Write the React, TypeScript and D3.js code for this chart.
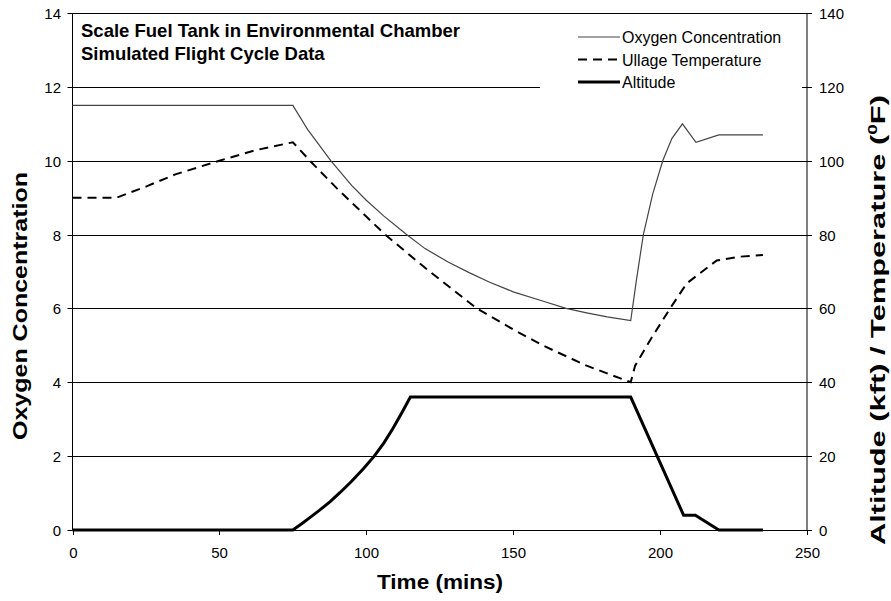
import React, { useRef, useEffect } from "react";
import { select, scaleLinear, line } from "d3";

// x axis (minutes) and the two y axes
const timeTicks = [0, 50, 100, 150, 200, 250];
const oxygenTicks = [0, 2, 4, 6, 8, 10, 12, 14];
const tempTicks = [0, 20, 40, 60, 80, 100, 120, 140];

// Oxygen concentration (left axis)
const oxygenTime = [0, 75, 80, 87.9, 95, 100, 106, 113.7, 120, 128, 135, 142, 150, 160, 168, 175, 182, 190, 192, 194.3, 197.5, 200.9, 204, 207.6, 212.2, 220, 235];
const oxygenValue = [11.5, 11.5, 10.85, 10.0, 9.33, 8.93, 8.5, 8.0, 7.62, 7.25, 6.97, 6.71, 6.45, 6.2, 6.0, 5.88, 5.77, 5.67, 6.8, 8.0, 9.1, 10.0, 10.6, 11.0, 10.5, 10.7, 10.7];

// Ullage temperature (right axis, deg F)
const ullageTime = [0, 15, 25, 35, 50, 62, 75, 80.8, 90, 106.4, 120, 137.6, 150, 160, 175, 190, 191.5, 196.6, 203.4, 209.1, 219.3, 227, 235];
const ullageValue = [90, 90, 93, 96.3, 100, 102.8, 105, 100, 92.5, 80, 71, 60, 54.3, 50, 44.5, 40, 44.5, 51.4, 60, 66.8, 73, 74, 74.5];

// Altitude (right axis, kft)
const altitudeTime = [0, 75, 78, 81, 84, 87.7, 91, 95, 99, 102.7, 106, 109, 112, 115, 190, 208, 212, 220, 235];
const altitudeValue = [0, 0, 1.7, 3.5, 5.3, 7.7, 10.1, 13.2, 16.6, 20, 23.6, 27.4, 31.6, 36, 36, 4, 4, 0, 0];

const legendLabels = ["Oxygen Concentration", "Ullage Temperature", "Altitude"];

const FONT = "'Liberation Sans', Arial, sans-serif";

const App = () => {
  const ref = useRef(null);
  const width = 891;
  const height = 601;
  const left = 72.5;
  const right = 807;
  const top = 13;
  const bottom = 530;

  useEffect(() => {
    const svg = select(ref.current);
    svg.selectAll("*").remove();

    const x = scaleLinear().domain([0, 250]).range([left, right]);
    const yL = scaleLinear().domain([0, 14]).range([bottom, top]);
    const yR = scaleLinear().domain([0, 140]).range([bottom, top]);

    svg.append("rect").attr("width", width).attr("height", height).attr("fill", "#fff");

    // gridlines
    svg.selectAll(".grid")
      .data(oxygenTicks)
      .enter()
      .append("line")
      .attr("x1", left)
      .attr("x2", right)
      .attr("y1", (d) => Math.round(yL(d)) + 0.5)
      .attr("y2", (d) => Math.round(yL(d)) + 0.5)
      .attr("stroke", "#000")
      .attr("stroke-width", 1);

    // legend box hides the 12 gridline
    svg.append("rect")
      .attr("x", 540)
      .attr("y", 21)
      .attr("width", right - 541)
      .attr("height", 74)
      .attr("fill", "#fff");

    // frame
    svg.append("line").attr("x1", left).attr("x2", left).attr("y1", top).attr("y2", bottom).attr("stroke", "#000");
    svg.append("line").attr("x1", right).attr("x2", right).attr("y1", top).attr("y2", bottom).attr("stroke", "#000");
    svg.append("line").attr("x1", left).attr("x2", right).attr("y1", Math.round(top) + 0.5).attr("y2", Math.round(top) + 0.5).attr("stroke", "#000");

    // left ticks
    oxygenTicks.forEach((d) => {
      const yy = Math.round(yL(d)) + 0.5;
      svg.append("line").attr("x1", left - 5).attr("x2", left).attr("y1", yy).attr("y2", yy).attr("stroke", "#000");
      svg.append("text")
        .attr("x", 61)
        .attr("y", yy + 5)
        .attr("text-anchor", "end")
        .style("font-family", FONT)
        .style("font-size", "15px")
        .text(d);
    });

    // right ticks
    tempTicks.forEach((d) => {
      const yy = Math.round(yR(d)) + 0.5;
      svg.append("line").attr("x1", right - 5).attr("x2", right + 5).attr("y1", yy).attr("y2", yy).attr("stroke", "#000");
      svg.append("text")
        .attr("x", 819)
        .attr("y", yy + 5)
        .attr("text-anchor", "start")
        .style("font-family", FONT)
        .style("font-size", "15px")
        .text(d);
    });

    // bottom ticks
    timeTicks.forEach((d) => {
      const xx = Math.round(x(d)) + 0.5;
      svg.append("line").attr("x1", xx).attr("x2", xx).attr("y1", bottom).attr("y2", bottom + 5).attr("stroke", "#000");
      svg.append("text")
        .attr("x", xx)
        .attr("y", 558)
        .attr("text-anchor", "middle")
        .style("font-family", FONT)
        .style("font-size", "15px")
        .text(d);
    });

    const lineGen = (ys) =>
      line()
        .x((d) => x(d[0]))
        .y((d) => ys(d[1]));

    const oxygenData = oxygenTime.map((t, i) => [t, oxygenValue[i]]);
    const ullageData = ullageTime.map((t, i) => [t, ullageValue[i]]);
    const altitudeData = altitudeTime.map((t, i) => [t, altitudeValue[i]]);

    svg.append("path")
      .datum(altitudeData)
      .attr("fill", "none")
      .attr("stroke", "#000")
      .attr("stroke-width", 3)
      .attr("d", lineGen(yR));

    svg.append("path")
      .datum(ullageData)
      .attr("fill", "none")
      .attr("stroke", "#000")
      .attr("stroke-width", 2)
      .attr("stroke-dasharray", "9,6")
      .attr("d", lineGen(yR));

    svg.append("path")
      .datum(oxygenData)
      .attr("fill", "none")
      .attr("stroke", "#444")
      .attr("stroke-width", 1.2)
      .attr("d", lineGen(yL));

    // title
    const title = svg.append("text")
      .style("font-family", FONT)
      .style("font-size", "18.5px")
      .style("font-weight", "bold");
    title.append("tspan").attr("x", 81).attr("y", 37).text("Scale Fuel Tank in Environmental Chamber");
    title.append("tspan").attr("x", 81).attr("y", 60).text("Simulated Flight Cycle Data");

    // legend
    const legendStyles = [
      { w: 1.2, dash: null, c: "#444" },
      { w: 2, dash: "9,6", c: "#000" },
      { w: 3, dash: null, c: "#000" },
    ];
    legendLabels.forEach((label, i) => {
      const yy = 37 + i * 22.5;
      svg.append("line")
        .attr("x1", 578)
        .attr("x2", 620)
        .attr("y1", yy)
        .attr("y2", yy)
        .attr("stroke", legendStyles[i].c)
        .attr("stroke-width", legendStyles[i].w)
        .attr("stroke-dasharray", legendStyles[i].dash);
      svg.append("text")
        .attr("x", 622)
        .attr("y", yy + 6)
        .style("font-family", FONT)
        .style("font-size", "16px")
        .text(label);
    });

    // axis titles
    svg.append("text")
      .attr("x", 440)
      .attr("y", 589)
      .attr("text-anchor", "middle")
      .attr("textLength", 126)
      .attr("lengthAdjust", "spacingAndGlyphs")
      .style("font-family", FONT)
      .style("font-size", "20px")
      .style("font-weight", "bold")
      .text("Time (mins)");

    svg.append("text")
      .attr("transform", `translate(27, 306) rotate(-90)`)
      .attr("text-anchor", "middle")
      .attr("textLength", 268)
      .attr("lengthAdjust", "spacingAndGlyphs")
      .style("font-family", FONT)
      .style("font-size", "21px")
      .style("font-weight", "bold")
      .text("Oxygen Concentration");

    // right title: stretched along its length to match the reference
    const rg = svg.append("g");
    const rt = rg.append("text")
      .attr("text-anchor", "middle")
      .style("font-family", FONT)
      .style("font-size", "21px")
      .style("font-weight", "bold");
    rt.append("tspan").text("Altitude (kft) / Temperature (");
    rt.append("tspan").attr("dy", -8).style("font-size", "13px").text("0");
    rt.append("tspan").attr("dy", 8).text("F)");
    const natural = rt.node().getComputedTextLength() || 300;
    rg.attr("transform", `translate(885, 320) rotate(-90) scale(${450 / natural}, 1)`);
  }, []);

  return (
    <svg
      ref={ref}
      width={width}
      height={height}
      style={{ position: "absolute", left: 0, top: 0 }}
    />
  );
};

export default App;
